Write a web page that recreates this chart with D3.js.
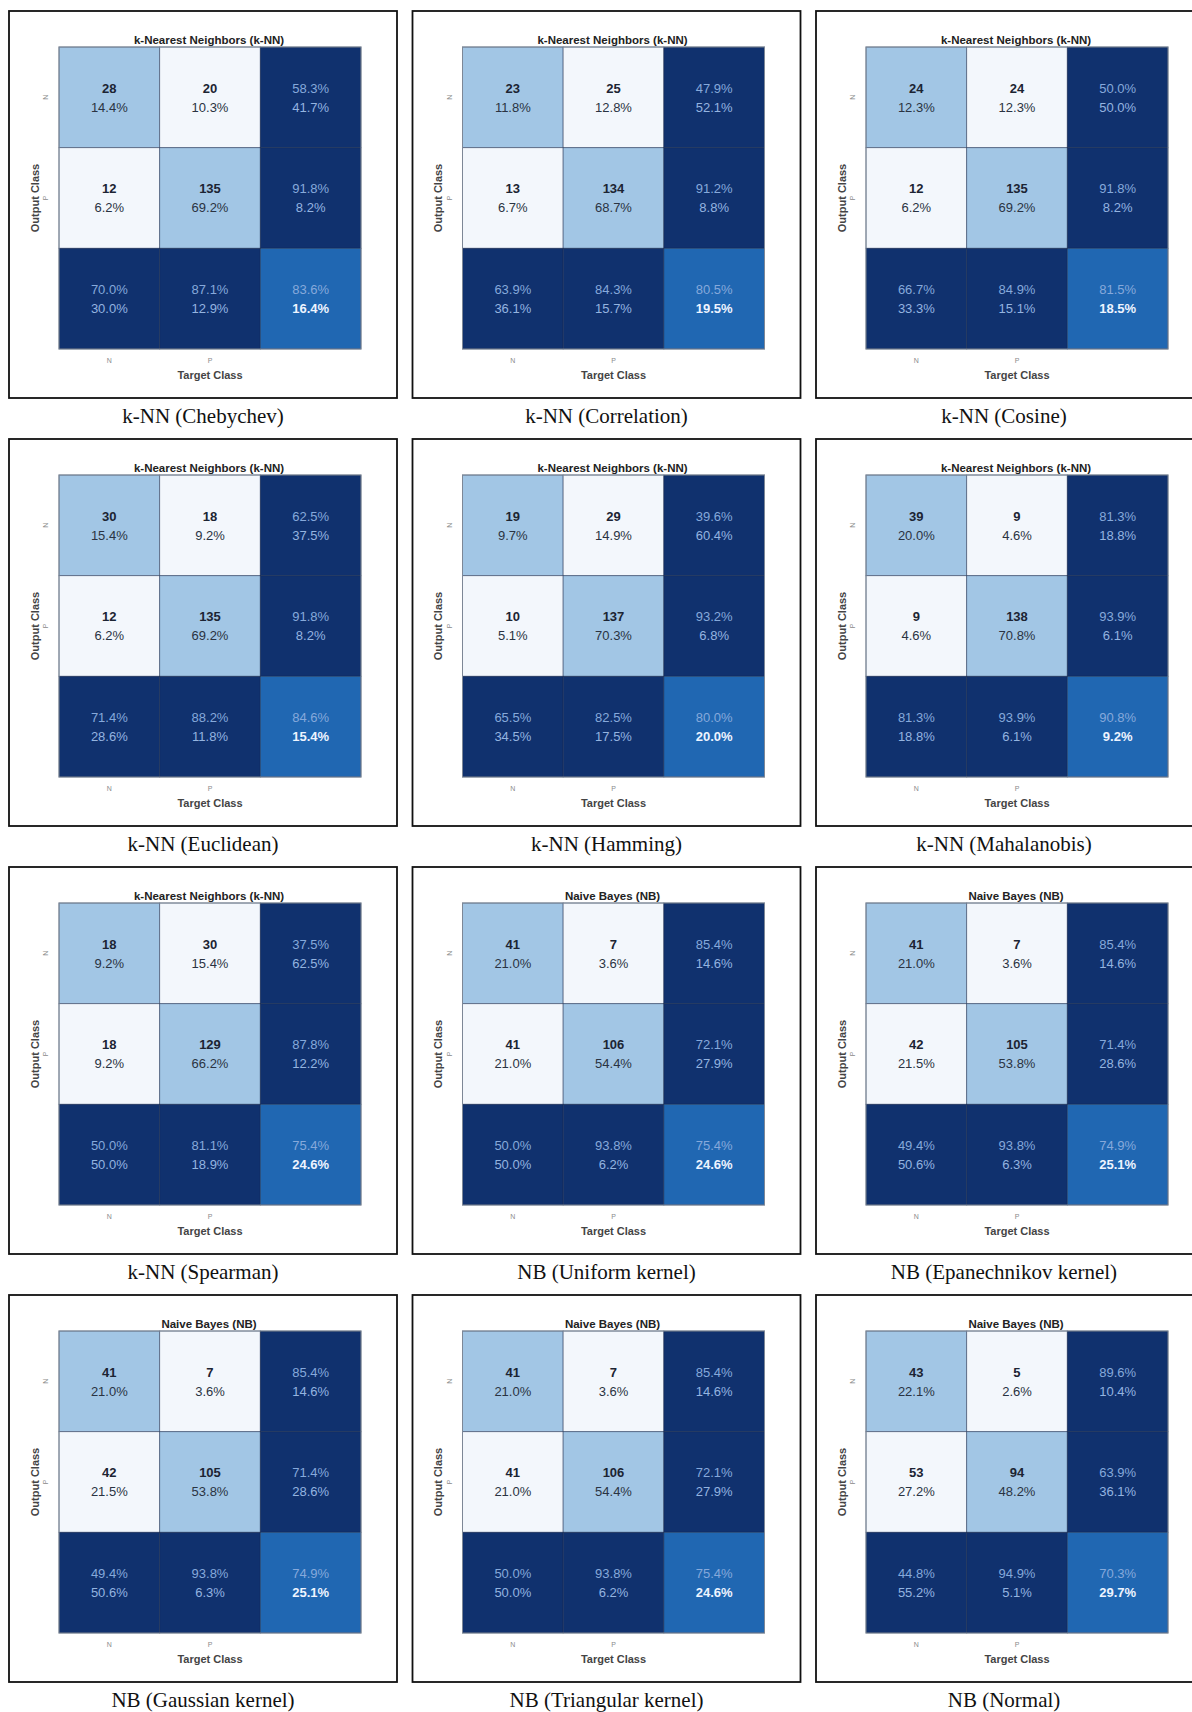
<!DOCTYPE html>
<html>
<head>
<meta charset="utf-8">
<script src="https://cdn.jsdelivr.net/npm/d3@7"></script>
<style>
  html, body { margin: 0; padding: 0; background: #fff; }
  svg { display: block; }
  .cap { font-family: "Liberation Serif", "Times New Roman", serif; font-size: 21px; fill: #111; }
  .ui { font-family: "Liberation Sans", Arial, sans-serif; }
</style>
</head>
<body>
<svg id="fig" width="1192" height="1712"></svg>
<script>
// Panel captions (below each box) and plot titles (above each matrix)
const captions = [
  'k-NN (Chebychev)', 'k-NN (Correlation)', 'k-NN (Cosine)',
  'k-NN (Euclidean)', 'k-NN (Hamming)', 'k-NN (Mahalanobis)',
  'k-NN (Spearman)', 'NB (Uniform kernel)', 'NB (Epanechnikov kernel)',
  'NB (Gaussian kernel)', 'NB (Triangular kernel)', 'NB (Normal)',
];
const titles = [
  'k-Nearest Neighbors (k-NN)', 'k-Nearest Neighbors (k-NN)', 'k-Nearest Neighbors (k-NN)',
  'k-Nearest Neighbors (k-NN)', 'k-Nearest Neighbors (k-NN)', 'k-Nearest Neighbors (k-NN)',
  'k-Nearest Neighbors (k-NN)', 'Naive Bayes (NB)', 'Naive Bayes (NB)',
  'Naive Bayes (NB)', 'Naive Bayes (NB)', 'Naive Bayes (NB)',
];
const classes = ['N', 'P'];

// counts: [NN, NP(out N, target P), PN, PP]
const counts = [
  [28, 20, 12, 135], [23, 25, 13, 134], [24, 24, 12, 135],
  [30, 18, 12, 135], [19, 29, 10, 137], [39, 9, 9, 138],
  [18, 30, 18, 129], [41, 7, 41, 106], [41, 7, 42, 105],
  [41, 7, 42, 105], [41, 7, 41, 106], [43, 5, 53, 94],
];
const cellPct = [
  ['14.4%', '10.3%', '6.2%', '69.2%'], ['11.8%', '12.8%', '6.7%', '68.7%'], ['12.3%', '12.3%', '6.2%', '69.2%'],
  ['15.4%', '9.2%', '6.2%', '69.2%'], ['9.7%', '14.9%', '5.1%', '70.3%'], ['20.0%', '4.6%', '4.6%', '70.8%'],
  ['9.2%', '15.4%', '9.2%', '66.2%'], ['21.0%', '3.6%', '21.0%', '54.4%'], ['21.0%', '3.6%', '21.5%', '53.8%'],
  ['21.0%', '3.6%', '21.5%', '53.8%'], ['21.0%', '3.6%', '21.0%', '54.4%'], ['22.1%', '2.6%', '27.2%', '48.2%'],
];
// right column: per output class [correct, wrong] for N row then P row
const rowPct = [
  ['58.3%', '41.7%', '91.8%', '8.2%'], ['47.9%', '52.1%', '91.2%', '8.8%'], ['50.0%', '50.0%', '91.8%', '8.2%'],
  ['62.5%', '37.5%', '91.8%', '8.2%'], ['39.6%', '60.4%', '93.2%', '6.8%'], ['81.3%', '18.8%', '93.9%', '6.1%'],
  ['37.5%', '62.5%', '87.8%', '12.2%'], ['85.4%', '14.6%', '72.1%', '27.9%'], ['85.4%', '14.6%', '71.4%', '28.6%'],
  ['85.4%', '14.6%', '71.4%', '28.6%'], ['85.4%', '14.6%', '72.1%', '27.9%'], ['89.6%', '10.4%', '63.9%', '36.1%'],
];
// bottom row: per target class [correct, wrong] for N col then P col
const colPct = [
  ['70.0%', '30.0%', '87.1%', '12.9%'], ['63.9%', '36.1%', '84.3%', '15.7%'], ['66.7%', '33.3%', '84.9%', '15.1%'],
  ['71.4%', '28.6%', '88.2%', '11.8%'], ['65.5%', '34.5%', '82.5%', '17.5%'], ['81.3%', '18.8%', '93.9%', '6.1%'],
  ['50.0%', '50.0%', '81.1%', '18.9%'], ['50.0%', '50.0%', '93.8%', '6.2%'], ['49.4%', '50.6%', '93.8%', '6.3%'],
  ['49.4%', '50.6%', '93.8%', '6.3%'], ['50.0%', '50.0%', '93.8%', '6.2%'], ['44.8%', '55.2%', '94.9%', '5.1%'],
];
const overall = [
  ['83.6%', '16.4%'], ['80.5%', '19.5%'], ['81.5%', '18.5%'],
  ['84.6%', '15.4%'], ['80.0%', '20.0%'], ['90.8%', '9.2%'],
  ['75.4%', '24.6%'], ['75.4%', '24.6%'], ['74.9%', '25.1%'],
  ['74.9%', '25.1%'], ['75.4%', '24.6%'], ['70.3%', '29.7%'],
];

const fill = d3.scaleOrdinal()
  .domain(['diag', 'off', 'margin', 'total'])
  .range(['#a2c6e5', '#f3f7fc', '#10316e', '#2067b2']);

const svg = d3.select('#fig');
svg.append('rect').attr('width', 1192).attr('height', 1712).attr('fill', '#fff');

const boxW = 388, boxH = 387;
const colX = d3.scalePoint().domain([0, 1, 2]).range([9, 816]);
const rowY = d3.scalePoint().domain([0, 1, 2, 3]).range([11, 1295]);
const m = { left: 50, top: 36, size: 302 };

const band = d3.scaleBand().domain(['N', 'P', 'T']).range([0, m.size]);

captions.forEach((cap, i) => {
  const px = colX(i % 3), py = rowY(Math.floor(i / 3));
  const g = svg.append('g').attr('transform', `translate(${px},${py})`);

  g.append('rect')
    .attr('x', 0).attr('y', 0).attr('width', boxW).attr('height', boxH)
    .attr('fill', 'none').attr('stroke', '#111').attr('stroke-width', 1.8);

  svg.append('text').attr('class', 'cap')
    .attr('x', px + boxW / 2 - (i % 3 === 2 ? 6 : 0)).attr('y', py + boxH + 25)
    .attr('text-anchor', 'middle')
    .text(cap);

  const mg = g.append('g').attr('transform', `translate(${m.left},${m.top})`);

  // cells
  const c = counts[i], cp = cellPct[i], rp = rowPct[i], bp = colPct[i], ov = overall[i];
  const cells = [
    { r: 'N', c: 'N', type: 'diag', a: c[0], b: cp[0] },
    { r: 'N', c: 'P', type: 'off', a: c[1], b: cp[1] },
    { r: 'P', c: 'N', type: 'off', a: c[2], b: cp[2] },
    { r: 'P', c: 'P', type: 'diag', a: c[3], b: cp[3] },
    { r: 'N', c: 'T', type: 'margin', a: rp[0], b: rp[1] },
    { r: 'P', c: 'T', type: 'margin', a: rp[2], b: rp[3] },
    { r: 'T', c: 'N', type: 'margin', a: bp[0], b: bp[1] },
    { r: 'T', c: 'P', type: 'margin', a: bp[2], b: bp[3] },
    { r: 'T', c: 'T', type: 'total', a: ov[0], b: ov[1] },
  ];

  const cg = mg.selectAll('g.cell').data(cells).enter().append('g')
    .attr('class', 'cell')
    .attr('transform', (d) => `translate(${band(d.c)},${band(d.r)})`);

  cg.append('rect')
    .attr('width', band.bandwidth()).attr('height', band.bandwidth())
    .attr('fill', (d) => fill(d.type))
    .attr('stroke', '#1b2c4c').attr('stroke-opacity', 0.55).attr('stroke-width', 0.9);

  const cx = band.bandwidth() / 2, cy = band.bandwidth() / 2;
  cg.append('text').attr('class', 'ui')
    .attr('x', cx).attr('y', cy - 8)
    .attr('text-anchor', 'middle').attr('dominant-baseline', 'middle')
    .attr('font-size', 13)
    .attr('font-weight', (d) => (d.type === 'diag' || d.type === 'off') ? 'bold' : 'normal')
    .attr('fill', (d) => (d.type === 'diag' || d.type === 'off') ? '#1c2433' : '#86a9db')
    .text((d) => d.a);
  cg.append('text').attr('class', 'ui')
    .attr('x', cx).attr('y', cy + 11)
    .attr('text-anchor', 'middle').attr('dominant-baseline', 'middle')
    .attr('font-size', 13)
    .attr('font-weight', (d) => d.type === 'total' ? 'bold' : 'normal')
    .attr('fill', (d) => {
      if (d.type === 'total') return '#eef4ff';
      if (d.type === 'margin') return '#94b4e0';
      return '#2a3342';
    })
    .text((d) => d.b);

  // outer frame of matrix
  mg.append('rect')
    .attr('width', m.size).attr('height', m.size)
    .attr('fill', 'none').attr('stroke', '#7d8796').attr('stroke-width', 1);

  // title
  mg.append('text').attr('class', 'ui')
    .attr('x', m.size / 2 - 1).attr('y', -3)
    .attr('text-anchor', 'middle')
    .attr('font-size', 11.5).attr('font-weight', 'bold').attr('fill', '#222')
    .text(titles[i]);

  // axes with class tick labels
  const xAxis = mg.append('g').attr('class', 'ui')
    .attr('transform', `translate(0,${m.size})`)
    .call(d3.axisBottom(band).tickValues(classes).tickSize(0).tickPadding(9));
  const yAxis = mg.append('g').attr('class', 'ui')
    .call(d3.axisLeft(band).tickValues(classes).tickSize(0).tickPadding(10));
  [xAxis, yAxis].forEach((ax) => {
    ax.select('.domain').remove();
    ax.selectAll('text').attr('font-size', 7).attr('fill', '#8a8a8a')
      .attr('font-family', '"Liberation Sans", Arial, sans-serif');
  });
  yAxis.selectAll('.tick text')
    .attr('text-anchor', 'middle').attr('dy', 0).attr('x', 0)
    .attr('transform', 'translate(-11,0) rotate(-90)');

  mg.append('text').attr('class', 'ui')
    .attr('x', m.size / 2).attr('y', m.size + 30)
    .attr('text-anchor', 'middle')
    .attr('font-size', 11).attr('font-weight', 'bold').attr('fill', '#444')
    .text('Target Class');

  mg.append('text').attr('class', 'ui')
    .attr('transform', `translate(-23,${m.size / 2}) rotate(-90)`)
    .attr('text-anchor', 'middle').attr('dominant-baseline', 'middle')
    .attr('font-size', 11).attr('font-weight', 'bold').attr('fill', '#444')
    .text('Output Class');
});
</script>
</body>
</html>
